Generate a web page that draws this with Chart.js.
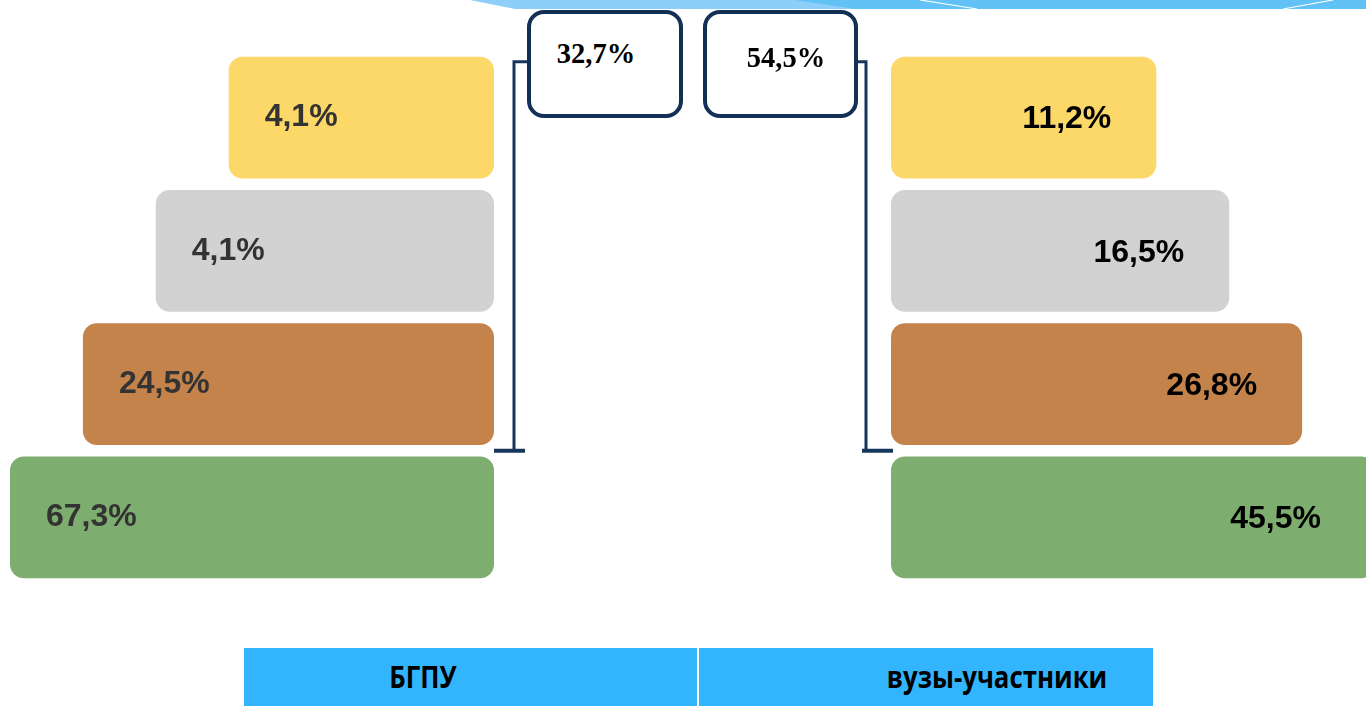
<!DOCTYPE html>
<html lang="ru">
<head>
<meta charset="utf-8">
<script src="https://cdn.jsdelivr.net/npm/chart.js@4/dist/chart.umd.min.js"></script>
<style>
  html, body { margin: 0; padding: 0; width: 1366px; height: 706px; overflow: hidden; background: #ffffff; }
  .wrap { position: absolute; }
  .box { position: absolute; box-sizing: border-box; border: 4px solid #122f55; border-radius: 17px; background: #fff; }
  .box span { position: absolute; font-family: "Liberation Serif", "Times New Roman", serif; font-weight: bold; font-size: 30px; line-height: 30px; color: #000; white-space: nowrap; transform: translateX(-50%) scaleX(0.95); }
  .band { position: absolute; top: 648px; height: 58px; background: #33b5fe; }
  .band span { position: absolute; top: 50%; font-family: "Open Sans", "Liberation Sans", sans-serif; font-weight: bold; font-size: 30px; line-height: 30px; color: #000; white-space: nowrap; transform: translate(-50%, -50%) scaleX(0.86); }
</style>
</head>
<body>
<svg width="1366" height="12" style="position:absolute;left:0;top:0">
  <polygon points="470,0 1366,0 1366,9 515,9" fill="#8dcff8"/>
  <polygon points="795,0 1366,0 1366,9 855,9" fill="#62c2f5"/>
  <line x1="920" y1="0" x2="977" y2="9" stroke="#ffffff" stroke-width="1.2"/>
  <line x1="1333" y1="0" x2="1283" y2="9" stroke="#ffffff" stroke-width="1.2"/>
</svg>

<div class="wrap" style="left:0;top:0;width:540px;height:640px"><canvas id="left"></canvas></div>
<div class="wrap" style="left:850px;top:0;width:525px;height:640px"><canvas id="right"></canvas></div>

<div class="box" style="left:527px;top:10px;width:156px;height:108px"><span id="totL" style="left:65px;top:24px"></span></div>
<div class="box" style="left:703px;top:10px;width:155px;height:108px"><span id="totR" style="left:79px;top:28px"></span></div>

<div class="band" style="left:244px;width:453px"><span id="gL" style="left:179px"></span></div>
<div class="band" style="left:699px;width:454px"><span id="gR" style="left:298px"></span></div>

<script>
// ---- data ----
const categories = ["уровень 1", "уровень 2", "уровень 3", "уровень 4"];
const groups = ["БГПУ", "вузы-участники"];
const bgpuValues = [4.1, 4.1, 24.5, 67.3];
const vuzValues = [11.2, 16.5, 26.8, 45.5];
const bracketTotals = [32.7, 54.5];           // sum of the upper three levels
const tiers = [1, 2, 3, 4];                    // pyramid step of each level
const barColors = ["#fbd867", "#d2d2d2", "#c5834c", "#7dad6f"];

const fmt = v => v.toFixed(1).replace(".", ",") + "%";

document.getElementById("totL").textContent = fmt(bracketTotals[0]);
document.getElementById("totR").textContent = fmt(bracketTotals[1]);
document.getElementById("gL").textContent = groups[0];
document.getElementById("gR").textContent = groups[1];

const BASE = -2.64;
const NAVY = "#17365d";

function labelPlugin(values, side) {
  return {
    id: "labels_" + side,
    afterDatasetsDraw(chart) {
      const ctx = chart.ctx;
      const meta = chart.getDatasetMeta(0);
      const area = chart.chartArea;
      ctx.save();
      ctx.font = "bold 32px 'Liberation Sans', Arial, sans-serif";
      ctx.textBaseline = "middle";
      meta.data.forEach((bar, i) => {
        const txt = fmt(values[i]);
        if (side === "left") {
          ctx.fillStyle = "#333333";
          ctx.textAlign = "left";
          ctx.fillText(txt, bar.x + 36, bar.y);
        } else {
          ctx.fillStyle = "#000000";
          ctx.textAlign = "right";
          ctx.fillText(txt, Math.min(bar.x, 1366 - chart.canvas.parentNode.offsetLeft) - 45, bar.y + 2);
        }
      });
      // bracket over the upper three levels
      const top = meta.data[0].y - meta.data[0].height / 2 + 5;
      const b2 = meta.data[2], b3 = meta.data[3];
      const bottom = ((b2.y + b2.height / 2) + (b3.y - b3.height / 2)) / 2;
      ctx.strokeStyle = NAVY;
      ctx.lineCap = "butt";
      if (side === "left") {
        const x = area.right + 20;
        ctx.lineWidth = 3;
        ctx.beginPath();
        ctx.moveTo(x + 14, top); ctx.lineTo(x, top); ctx.lineTo(x, bottom);
        ctx.stroke();
        ctx.lineWidth = 4;
        ctx.beginPath();
        ctx.moveTo(area.right, bottom); ctx.lineTo(x + 11, bottom);
        ctx.stroke();
      } else {
        const x = area.left - 25;
        ctx.lineWidth = 3;
        ctx.beginPath();
        ctx.moveTo(x - 8, top); ctx.lineTo(x, top); ctx.lineTo(x, bottom);
        ctx.stroke();
        ctx.lineWidth = 4;
        ctx.beginPath();
        ctx.moveTo(x - 4, bottom); ctx.lineTo(area.left + 2, bottom);
        ctx.stroke();
      }
      ctx.restore();
    }
  };
}

function makeChart(id, values, side) {
  return new Chart(document.getElementById(id), {
    type: "bar",
    data: {
      labels: categories,
      datasets: [{
        label: side === "left" ? groups[0] : groups[1],
        data: tiers,
        base: BASE,
        backgroundColor: barColors,
        borderRadius: 14,
        borderSkipped: false,
        barPercentage: 0.915,
        categoryPercentage: 1
      }]
    },
    options: {
      indexAxis: "y",
      responsive: true,
      maintainAspectRatio: false,
      animation: false,
      layout: {
        padding: side === "left"
          ? { left: 10, right: 46, top: 51, bottom: 56 }
          : { left: 41, right: 0, top: 51, bottom: 56 }
      },
      plugins: { legend: { display: false }, tooltip: { enabled: false } },
      scales: {
        y: { type: "category", display: false, offset: true },
        x: { type: "linear", display: false, reverse: side === "left", min: BASE, max: 4 }
      }
    },
    plugins: [labelPlugin(values, side)]
  });
}

makeChart("left", bgpuValues, "left");
makeChart("right", vuzValues, "right");
</script>
</body>
</html>
